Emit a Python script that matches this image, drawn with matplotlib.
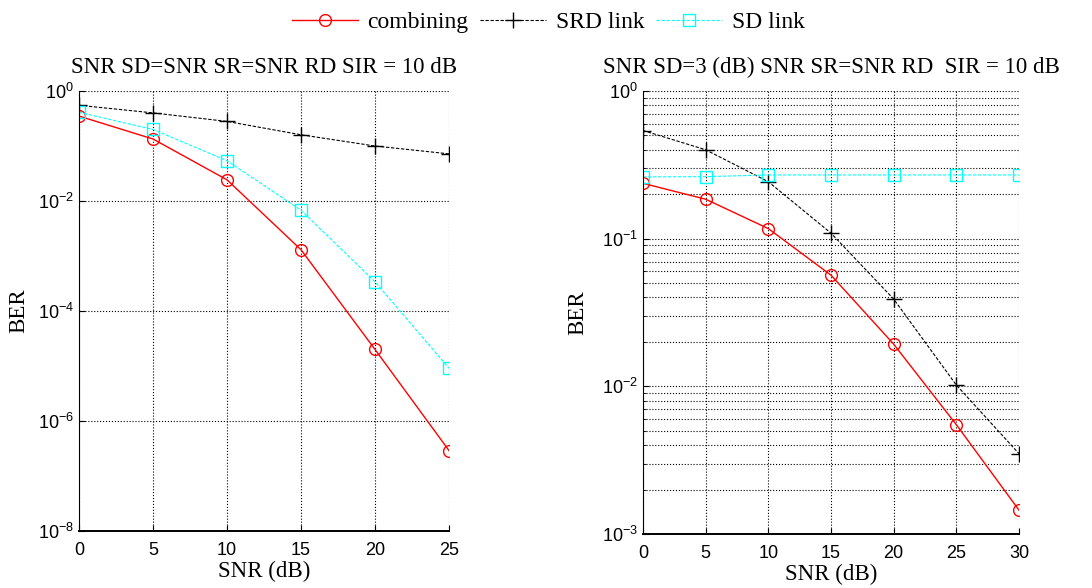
import matplotlib
matplotlib.use("Agg")
import matplotlib.pyplot as plt
from matplotlib.ticker import LogLocator, NullFormatter
from matplotlib.lines import Line2D

plt.rcParams["font.family"] = "Liberation Sans"
plt.rcParams["mathtext.default"] = "regular"

# Left panel: SNR SD = SNR SR = SNR RD
snr_left = [0, 5, 10, 15, 20, 25]
comb_left = [0.35, 0.134, 0.0243, 1.3e-3, 2.0e-5, 2.9e-7]
srd_left = [0.55, 0.40, 0.28, 0.16, 0.10, 0.072]
sd_left = [0.41, 0.20, 0.054, 0.0068, 3.4e-4, 9.1e-6]

# Right panel: SNR SD fixed at 3 dB
snr_right = [0, 5, 10, 15, 20, 25, 30]
comb_right = [0.237, 0.185, 0.117, 0.0566, 0.0193, 0.0055, 0.00145]
srd_right = [0.54, 0.40, 0.243, 0.109, 0.039, 0.0102, 0.0035]
sd_right = [0.262, 0.263, 0.27, 0.27, 0.27, 0.27, 0.27]

serif = "Liberation Serif"
grid_kw = dict(color="black", linestyle=":", linewidth=0.8)
dash = (3, 1.5)

fig = plt.figure(figsize=(10.92, 5.88), dpi=100)
ax1 = fig.add_axes([79 / 1092, 1 - 531 / 588, 370 / 1092, 440 / 588])
ax2 = fig.add_axes([643 / 1092, 1 - 534 / 588, 376 / 1092, 443 / 588])


def draw(ax, x, comb, srd, sd):
    ax.semilogy(x, comb, "-", color="red", marker="o", markersize=8.5,
                markerfacecolor="none", markeredgewidth=1.0, linewidth=1.0)
    ax.semilogy(x, srd, "--", dashes=dash, color="black", marker="+",
                markersize=11, markeredgewidth=1.0, linewidth=0.8)
    ax.semilogy(x, sd, "--", dashes=dash, color="cyan", marker="s",
                markersize=8.5, markerfacecolor="none", markeredgewidth=1.0,
                linewidth=0.8)
    ax.spines["top"].set_visible(False)
    ax.spines["right"].set_visible(False)
    ax.spines["bottom"].set_linewidth(1.4)
    ax.tick_params(direction="in", labelsize=13, length=4)
    ax.tick_params(axis="x", pad=8)
    ax.set_xlabel("SNR (dB)", family=serif, fontsize=16.5, labelpad=1)


draw(ax1, snr_left, comb_left, srd_left, sd_left)
ax1.set_xlim(0, 25)
ax1.set_ylim(1e-8, 1)
ax1.set_xticks(snr_left)
ax1.yaxis.set_major_locator(LogLocator(base=100.0, numticks=10))
ax1.yaxis.set_minor_locator(LogLocator(base=10.0, subs=(1.0,), numticks=20))
ax1.yaxis.set_minor_formatter(NullFormatter())
ax1.tick_params(axis="y", which="minor", length=0)
ax1.grid(True, which="major", **grid_kw)
ax1.set_title("SNR SD=SNR SR=SNR RD SIR = 10 dB", family=serif,
              fontsize=16.5, pad=13)
ax1.set_ylabel("BER", family=serif, fontsize=16.5, labelpad=6)

draw(ax2, snr_right, comb_right, srd_right, sd_right)
ax2.set_xlim(0, 30)
ax2.set_ylim(1e-3, 1)
ax2.set_xticks(snr_right)
ax2.yaxis.set_minor_locator(LogLocator(base=10.0, subs=range(2, 10), numticks=20))
ax2.yaxis.set_minor_formatter(NullFormatter())
ax2.tick_params(axis="y", which="minor", direction="in", length=2)
ax2.grid(True, which="major", **grid_kw)
ax2.grid(True, which="minor", axis="y", **grid_kw)
ax2.set_title("SNR SD=3 (dB) SNR SR=SNR RD  SIR = 10 dB", family=serif,
              fontsize=16.5, pad=13)
ax2.set_ylabel("BER", family=serif, fontsize=16.5, labelpad=10)

handles = [
    Line2D([], [], color="red", marker="o", markerfacecolor="none",
           markersize=8.5, linewidth=1.0),
    Line2D([], [], color="black", marker="+", linestyle="--", dashes=dash,
           markersize=11, linewidth=0.8),
    Line2D([], [], color="cyan", marker="s", markerfacecolor="none",
           linestyle="--", dashes=dash, markersize=8.5, linewidth=0.8),
]
fig.legend(handles, ["combining", "SRD link", "SD link"], loc="center",
           bbox_to_anchor=(548 / 1092, 1 - 22 / 588), ncol=3, frameon=False,
           prop={"family": serif, "size": 17}, handlelength=2.8,
           handletextpad=0.4, columnspacing=0.5)

fig.savefig("out.png", dpi=100)
